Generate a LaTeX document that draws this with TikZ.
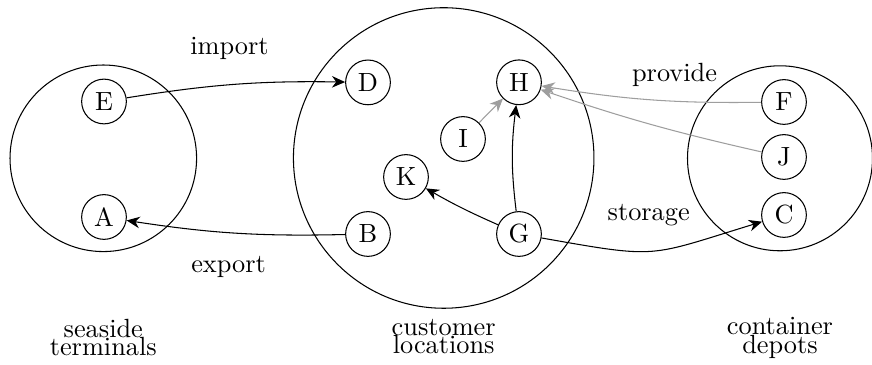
\documentclass[tikz,border=0pt]{standalone}
\usetikzlibrary{arrows.meta}
\begin{document}
\begin{tikzpicture}[x=0.38pt,y=0.38pt,
  region/.style={draw, circle, minimum size=#1, inner sep=0pt},
  place/.style={draw, circle, minimum size=17pt, inner sep=1pt},
  link/.style={-{Stealth[length=5pt,width=4.4pt]}},
  faint/.style={link, draw=black!38},
  group/.style={align=center, inner sep=0pt}
]
\useasboundingbox (0,0) rectangle (872,-365);

% the three areas
\node[region=70.9pt]  (seaside)  at (103.3,-158.3) {};
\node[region=114.2pt] (customer) at (443.7,-158)   {};
\node[region=70.3pt]  (depots)   at (780,-158.3)   {};

% area captions
\node[group] (capS) at (103.3,-337.5) {seaside\\[-5pt]terminals};
\node[group] (capC) at (443.7,-336.5) {customer\\[-5pt]locations};
\node[group] (capD) at (780,-338)     {container\\[-5pt]depots};

% locations
\node[place] (E) at (104,-101.5) {E};
\node[place] (A) at (104,-217)   {A};
\node[place] (D) at (368,-82.4)  {D};
\node[place] (H) at (519,-82.3)  {H};
\node[place] (I) at (463,-139)   {I};
\node[place] (K) at (406,-177)   {K};
\node[place] (B) at (368,-234)   {B};
\node[place] (G) at (519,-234)   {G};
\node[place] (F) at (784,-102)   {F};
\node[place] (J) at (784,-157)   {J};
\node[place] (C) at (784,-215)   {C};

% flows
\draw[link] (E) to[bend left=5] (D);
\draw[link] (B) to[bend left=5] (A);
\draw[link] (G) to[bend left=3] (K);
\draw[link] (G) to[bend left=7] (H);
\draw[link] (G) to[out=-10, in=197, looseness=1.4] (C);
\draw[faint] (I) -- (H);
\draw[faint] (F) to[bend left=5] (H);
\draw[faint] (J) to[bend left=3] (H);

% flow labels
\node[anchor=base] (limport)  at (229.5,-54.3) {import};
\node[anchor=base] (lexport)  at (228.6,-272.4) {export};
\node[anchor=base] (lprovide) at (674.5,-81.5) {provide};
\node[anchor=base] (lstorage) at (648.7,-221)  {storage};
\end{tikzpicture}
\end{document}
